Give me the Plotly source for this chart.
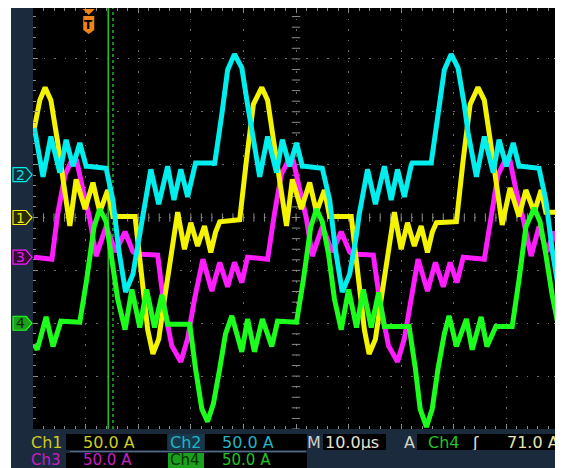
import numpy as np
import plotly.graph_objects as go

# ---------------- data (time in µs, current in A; 50 A/div, 10 µs/div) ----------------
ch1_t = [0.2, 1.3, 2.3, 3.4, 4.6, 5.7, 7.0, 8.2, 9.9, 11.4, 12.7, 14.2, 15.2, 19.4, 20.7, 21.8, 22.8, 23.9, 25.0,
         26.2, 27.5, 28.8, 30.0, 31.3, 32.6, 33.8, 34.7, 35.5, 39.3, 40.6, 41.9, 43.5, 44.6, 45.7, 46.9, 48.2,
         49.3, 51.0, 52.6, 53.9, 55.4, 56.4, 60.5, 61.9, 63.0, 63.9, 65.1, 66.2, 67.4, 68.7, 70.0, 71.2, 72.5,
         73.8, 75.0, 75.9, 76.7, 80.5, 81.8, 83.1, 84.6, 85.8, 86.9, 88.0, 89.2, 90.7, 92.4, 93.7, 95.3, 96.6,
         97.5, 100.0]
ch1_a = [83, 111, 123, 111, 74, 36, -8, 36, 8, 33, 5, 26, 1, 1, -58, -106, -129, -115, -77,
         -40, 5, -30, -5, -27, -8, -33, -14, -4, -2, 55, 107, 123, 111, 74, 36, -8,
         36, 8, 33, 5, 26, 1, 1, -58, -106, -129, -115, -77, -40, 5, -30, -5, -27,
         -8, -33, -14, -5, -4, 55, 107, 123, 111, 74, 36, -7, 28, 1, 26, 5, 26,
         5, 5]

ch2_t = [0.2, 0.4, 1.9, 3.4, 5.1, 6.3, 7.6, 8.9, 10.1, 10.4, 13.9, 15.2, 16.3, 17.6, 19.0, 20.3, 20.9, 22.4,
         23.9, 25.6, 26.8, 28.1, 29.4, 30.7, 30.9, 34.3, 34.5, 35.9, 37.0, 38.3, 39.7, 40.8, 41.6, 43.1, 44.6,
         46.3, 47.4, 48.8, 50.1, 51.2, 51.6, 55.0, 56.4, 57.5, 58.8, 60.2, 61.5, 62.0, 63.6, 65.1, 66.8, 68.1,
         69.3, 70.6, 71.9, 72.1, 75.7, 77.0, 78.2, 79.5, 80.8, 82.0, 82.7, 84.3, 85.8, 87.5, 88.6, 90.0, 91.3,
         92.4, 92.8, 96.2, 97.5, 98.7, 100.0]
ch2_a = [44, 40, -2, 36, 2, 33, 8, 30, 8, 8, 6, -24, -71, -111, -94, -57, -38, 5,
         -28, 8, -24, 5, -21, 9, 11, 11, 9, 57, 99, 114, 101, 66, 40, -2, 36,
         2, 33, 8, 30, 8, 8, 6, -24, -71, -111, -94, -57, -38, 5, -28, 8, -24,
         5, -21, 9, 11, 11, 57, 99, 114, 101, 66, 40, -2, 36, 2, 33, 8, 30,
         8, 8, 6, -24, -71, -111]

ch3_t = [0.2, 3.6, 4.7, 6.1, 7.4, 8.3, 9.5, 10.8, 12.0, 13.9, 15.7, 17.5, 19.0, 19.7, 23.7, 25.0, 26.4, 28.1,
         29.4, 30.7, 32.3, 34.0, 35.5, 37.0, 38.3, 39.7, 40.8, 44.6, 45.9, 47.2, 48.6, 49.5, 50.7, 52.0, 53.1,
         55.0, 56.9, 58.6, 60.2, 60.7, 64.7, 66.0, 67.6, 69.3, 70.6, 71.9, 73.2, 75.0, 76.5, 78.0, 79.3, 80.6,
         81.8, 85.8, 87.1, 88.4, 89.8, 90.7, 91.8, 93.2, 94.7, 96.2, 97.7, 99.1, 100.0]
ch3_a = [0, -2, 41, 78, 92, 91, 64, 36, 1, 29, 5, 24, 5, 3, 2, -49, -84, -99,
         -77, -40, -2, -32, -5, -28, -5, -24, 0, -2, 41, 78, 92, 91, 64, 36, 1,
         29, 5, 24, 5, 3, 2, -44, -84, -99, -77, -40, -2, -32, -5, -28, -5, -24,
         0, -2, 41, 78, 92, 91, 64, 36, 1, 29, 5, 24, 8]

ch4_t = [0.2, 0.8, 2.5, 3.8, 5.3, 8.9, 10.2, 11.6, 12.7, 13.9, 15.0, 16.1, 17.5, 18.8, 20.3, 21.6, 23.1, 24.5,
         25.6, 29.8, 30.9, 32.1, 33.2, 34.3, 35.5, 36.6, 37.8, 39.7, 40.8, 42.1, 43.6, 45.4, 46.5, 50.1, 51.4,
         52.8, 53.9, 55.0, 56.2, 57.3, 58.6, 60.0, 61.5, 62.8, 64.3, 65.7, 66.8, 71.5, 72.7, 73.6, 74.8, 75.9,
         77.0, 78.2, 79.1, 80.5, 82.4, 83.5, 85.2, 86.3, 88.0, 91.1, 92.4, 93.7, 95.3, 96.4, 97.5, 98.7, 100.0]
ch4_a = [-20, -25, 6, -22, 2, 1, 41, 91, 108, 96, 60, 23, -6, 32, -4, 32, -4, 27,
         -1, -1, -43, -81, -93, -76, -43, -10, 7, -27, 4, -27, 4, -22, 2, 1, 41,
         91, 108, 96, 65, 23, -6, 32, -4, 32, -4, 29, -3, -3, -43, -81, -98, -81,
         -43, -10, 7, -22, 4, -25, 6, -22, -3, -3, 41, 91, 109, 96, 65, 27, -6]

channels = ["Ch1", "Ch2", "Ch3", "Ch4"]
amps_per_div = [50.0, 50.0, 50.0, 50.0]
position_div = [0.0, 0.81, -0.75, -2.0]
trace_colors = ["#f4f400", "#00eeee", "#ff1cff", "#1cff1c"]
timebase_label = "10.0µs"
trigger_level_label = "71.0 A"
trigger_time = 10.6
cursor_times = [14.3, 15.2]

# ---------------- figure ----------------
# the page adds an 8 px body margin; the figure is sized/positioned to compensate
OFF = 8
W, H = 563 - OFF, 468 - OFF
L, R, T, B = 33 - OFF, 4, 0, 39
PW, PH = W - L - R, H - T - B
DIV_PX = 423 / 8.0
Y_TOP = 4 - 2 / DIV_PX   # plot top sits 2 px below the graticule top


def px(xp):
    """page x pixel -> paper fraction"""
    return (xp - OFF - L) / PW


def py(yp):
    """page y pixel -> paper fraction"""
    return (H - B - (yp - OFF)) / PH


fig = go.Figure()

# graticule centre-line ticks (decoration)
fig.add_trace(go.Scatter(x=np.arange(0, 100.01, 2), y=np.zeros(51), mode="markers",
                         marker=dict(symbol="line-ns", size=6, line=dict(color="#8c8c8c", width=1)),
                         hoverinfo="skip", showlegend=False))
fig.add_trace(go.Scatter(x=np.full(40, 50.0), y=np.arange(-4, 3.9, 0.2), mode="markers",
                         marker=dict(symbol="line-ew", size=6, line=dict(color="#8c8c8c", width=1)),
                         hoverinfo="skip", showlegend=False))

series = {"Ch1": (ch1_t, ch1_a), "Ch2": (ch2_t, ch2_a), "Ch3": (ch3_t, ch3_a), "Ch4": (ch4_t, ch4_a)}
draw_order = [2, 0, 1, 3]
for i in draw_order:
    name = channels[i]
    t, a = series[name]
    y = np.array(a, dtype=float) / amps_per_div[i] + position_div[i]
    fig.add_trace(go.Scatter(x=t, y=y, mode="lines", name=name,
                             line=dict(color=trace_colors[i], width=5),
                             hoverinfo="skip", showlegend=False))

PANEL = "#1b2a3c"
shapes = []
shapes.append(dict(type="rect", xref="paper", yref="paper", x0=px(11), x1=px(570), y0=py(475), y1=0,
                   fillcolor=PANEL, line=dict(width=0), layer="below"))
shapes.append(dict(type="rect", xref="paper", yref="paper", x0=px(11), x1=0, y0=0, y1=1.01,
                   fillcolor=PANEL, line=dict(width=0), layer="below"))
shapes.append(dict(type="rect", xref="paper", yref="paper", x0=1, x1=px(570), y0=0, y1=1.01,
                   fillcolor="#3a4656", line=dict(width=0), layer="below"))


def box(x0, x1, y0, y1, color):
    shapes.append(dict(type="rect", xref="paper", yref="paper", x0=px(x0), x1=px(x1), y0=py(y1), y1=py(y0),
                       fillcolor=color, line=dict(width=0), layer="above"))


box(66, 167, 434, 450, "#000000")
box(168, 204, 434, 450, "#17384a")
box(205, 307, 434, 450, "#000000")
box(323, 386, 434, 450, "#000000")
box(417, 562, 434, 450, "#000000")
box(66, 307, 453, 470, "#000000")
box(168, 204, 453, 470, "#1aa01a")
shapes.append(dict(type="line", xref="paper", yref="paper", x0=px(70), x1=px(306), y0=py(451.5), y1=py(451.5),
                   line=dict(color="#5a6a80", width=1), layer="above"))

# cursors
shapes.append(dict(type="line", xref="x", yref="paper", x0=cursor_times[0], x1=cursor_times[0], y0=0, y1=1,
                   line=dict(color="#22c422", width=1.5), layer="between"))
shapes.append(dict(type="line", xref="x", yref="paper", x0=cursor_times[1], x1=cursor_times[1], y0=0, y1=1,
                   line=dict(color="#22b022", width=1.5, dash="dot"), layer="between"))

# channel position markers
marker_fill = ["#2c2c08", "#0c3038", "#340a34", "#1aa01a"]
marker_text = ["#e8e820", "#20d8e0", "#e020e0", "#062806"]
annotations = []
for i, name in enumerate(channels):
    shapes.append(dict(type="path", xref="paper", yref="y", xsizemode="pixel", ysizemode="pixel",
                       xanchor=0, yanchor=position_div[i],
                       path="M -20 -7 L -7 -7 L -1 0 L -7 7 L -20 7 Z",
                       fillcolor=marker_fill[i], line=dict(color=trace_colors[i], width=1.2), layer="above"))
    annotations.append(dict(x=0, y=position_div[i], xref="paper", yref="y", xshift=-13, text=str(i + 1),
                            showarrow=False, font=dict(family="DejaVu Sans", size=14, color=marker_text[i]),
                            xanchor="center", yanchor="middle", height=14))

# trigger position marker (top of graticule = y 4 div)
ORANGE = "#f08418"
shapes.append(dict(type="path", xref="x", yref="y", xsizemode="pixel", ysizemode="pixel",
                   xanchor=trigger_time, yanchor=4, path="M -6 -3 L 6 -3 L 0 -9 Z",
                   fillcolor=ORANGE, line=dict(width=0), layer="above"))
shapes.append(dict(type="path", xref="x", yref="y", xsizemode="pixel", ysizemode="pixel",
                   xanchor=trigger_time, yanchor=4, path="M -5.5 -10 L 5.5 -10 L 5.5 -24 L 0 -28 L -5.5 -24 Z",
                   fillcolor=ORANGE, line=dict(width=0), layer="above"))
annotations.append(dict(x=trigger_time, y=1, xref="x", yref="paper", yshift=-16, text="<b>T</b>",
                        showarrow=False, font=dict(family="DejaVu Sans", size=12, color="#000000"),
                        xanchor="center", yanchor="middle", height=13))

FONT = "DejaVu Sans"


def label(x, y, text, color, size=16):
    annotations.append(dict(x=px(x), y=py(y), xref="paper", yref="paper", text=text, showarrow=False,
                            xanchor="left", yanchor="middle", height=15, borderpad=0,
                            font=dict(family=FONT, size=size, color=color)))


label(30, 442, "Ch1", "#cccc22")
label(82, 442, f"{amps_per_div[0]:.1f} A", "#cccc22")
label(169, 442, "Ch2", "#20b4c4")
label(221, 442, f"{amps_per_div[1]:.1f} A", "#20b4c4")
label(306, 442, "M", "#d0d0d0")
label(324, 442, timebase_label, "#e4e4d4")
label(403, 442, "A", "#d4d4c4")
label(427, 442, "Ch4", "#22c422")
label(471, 442, "ʃ", "#e4e4d4")
label(506, 442, trigger_level_label, "#e4e4b0")
label(30, 459, "Ch3", "#c81ec8", 15)
label(82, 459, f"{amps_per_div[2]:.1f} A", "#c81ec8", 15)
label(169, 459, "Ch4", "#063006", 15)
label(221, 459, f"{amps_per_div[3]:.1f} A", "#22c422", 15)

grid_color = "#6e6e6e"
fig.update_layout(
    width=W, height=H, margin=dict(l=L, r=R, t=T, b=B, pad=0),
    paper_bgcolor="#ffffff", plot_bgcolor="#000000",
    shapes=shapes, annotations=annotations, showlegend=False,
    xaxis=dict(range=[0, 100], dtick=10, showgrid=True, gridcolor=grid_color, griddash="1.5px,9px",
               zeroline=False, showline=False, showticklabels=False, ticks="inside", ticklen=5,
               tickcolor="#8c8c8c", mirror="ticks", fixedrange=True,
               minor=dict(dtick=2, ticks="inside", ticklen=3, tickcolor="#8c8c8c", showgrid=False)),
    yaxis=dict(range=[-4, Y_TOP], dtick=1, showgrid=True, gridcolor=grid_color, griddash="1.5px,9px",
               zeroline=False, showline=False, showticklabels=False, ticks="inside", ticklen=5,
               tickcolor="#8c8c8c", mirror="ticks", fixedrange=True,
               minor=dict(dtick=0.2, ticks="inside", ticklen=3, tickcolor="#8c8c8c", showgrid=False)),
)

fig.write_html("out.html")
